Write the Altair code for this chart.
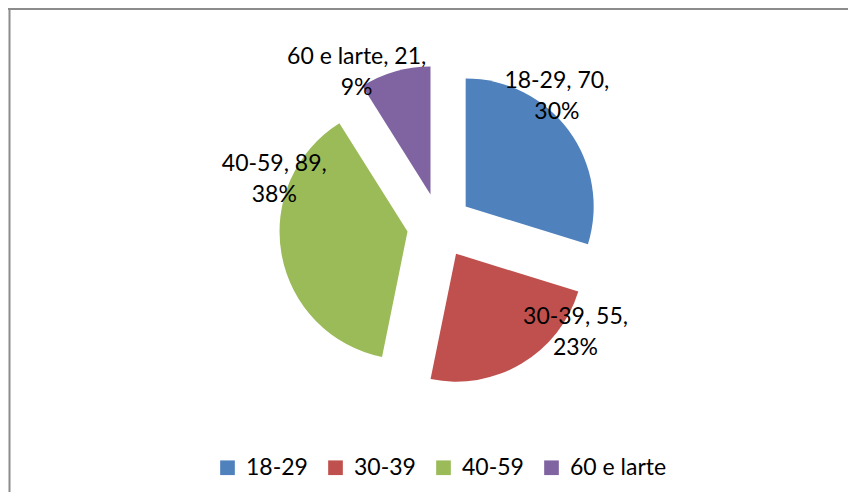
import altair as alt
import pandas as pd

# ---- data ----
categories = ["18-29", "30-39", "40-59", "60 e larte"]
counts = [70, 55, 89, 21]
colors = ["#4F81BD", "#C0504D", "#9BBB59", "#8064A2"]

# ---- layout constants (plot-area pixels / degrees) ----
W, H = 840, 484
CX, CY = 431.5, 217.7      # centre of the un-exploded pie
R = 128                    # pie radius
EXPLODE = 32.5             # explosion distance of every slice
LABEL_R = 143              # label distance from each slice's own apex
# angular nudge of each data label from its slice's mid-angle (Excel label placement)
LABEL_NUDGE_DEG = [-14, -26, 31.6, -15]
LINE_H = 31
FONT = "Lato"

df = pd.DataFrame({"category": categories, "value": counts,
                   "order": list(range(len(categories))),
                   "nudge": LABEL_NUDGE_DEG})

base = (
    alt.Chart(df)
    .transform_joinaggregate(total="sum(value)")
    .transform_window(cum="sum(value)", sort=[alt.SortField("order")], frame=[None, 0])
    .transform_calculate(start="2*PI*(datum.cum-datum.value)/datum.total")
    .transform_calculate(end="2*PI*datum.cum/datum.total")
    .transform_calculate(mid="(datum.start+datum.end)/2")
    .transform_calculate(px=f"{CX}+{EXPLODE}*sin(datum.mid)")
    .transform_calculate(py=f"{CY}-{EXPLODE}*cos(datum.mid)")
    .transform_calculate(la="datum.mid + datum.nudge*PI/180")
    .transform_calculate(lx=f"datum.px+{LABEL_R}*sin(datum.la)")
    .transform_calculate(ly=f"datum.py-{LABEL_R}*cos(datum.la)")
    .transform_calculate(
        lab="[datum.category + ', ' + datum.value + ',', format(datum.value/datum.total, '.0%')]"
    )
)

arcs = base.mark_arc(outerRadius=R).encode(
    theta=alt.Theta("start:Q", scale=None),
    theta2="end:Q",
    x=alt.X("px:Q", scale=None, axis=None),
    y=alt.Y("py:Q", scale=None, axis=None),
    color=alt.Color(
        "category:N",
        scale=alt.Scale(domain=categories, range=colors),
        legend=alt.Legend(
            title=None,
            orient="none",
            direction="horizontal",
            legendX=208,
            legendY=448,
            symbolType="square",
            symbolSize=215,
            symbolStrokeWidth=0,
            labelFont=FONT,
            labelFontSize=23,
            labelColor="#000000",
            labelOffset=7,
            columnPadding=16,
            padding=0,
        ),
    ),
)

labels = base.mark_text(
    font=FONT, fontSize=23, lineHeight=LINE_H, baseline="middle", align="center",
    color="#000000", dy=-LINE_H / 2
).encode(
    x=alt.X("lx:Q", scale=None, axis=None),
    y=alt.Y("ly:Q", scale=None, axis=None),
    text=alt.Text("lab:N"),
)

frame_df = pd.DataFrame({"k": [0]})
left_line = alt.Chart(frame_df).mark_rule(color="#8C8C8C", strokeWidth=2).encode(
    x=alt.value(1.5), y=alt.value(0), y2=alt.value(H)
)
top_line = alt.Chart(frame_df).mark_rule(color="#8C8C8C", strokeWidth=2).encode(
    x=alt.value(0), x2=alt.value(W), y=alt.value(1)
)

chart = (
    alt.layer(left_line, top_line, arcs, labels)
    .properties(width=W, height=H, padding=0, autosize=alt.AutoSizeParams(type="none"))
    .configure_view(stroke=None)
)

chart.save("out.html", embed_options={"renderer": "svg", "actions": False})
